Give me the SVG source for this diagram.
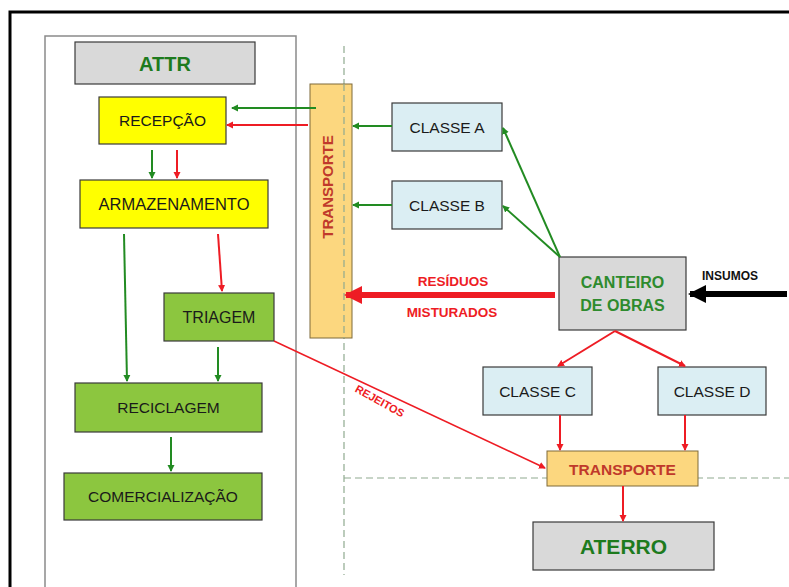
<svg xmlns="http://www.w3.org/2000/svg" width="789" height="587" viewBox="0 0 789 587">
<style>
text{font-family:"Liberation Sans",Arial,sans-serif;text-anchor:middle;dominant-baseline:central}
.n{stroke:#3a3a3a;stroke-width:1.2}
.gray{fill:#d9d9d9}
.yel{fill:#ffff00}
.grn{fill:#8cc63f}
.blu{fill:#dbeef3}
.org{fill:#fcd77f;stroke:#7f6a3a;stroke-width:1}
.t{font-size:15.5px;fill:#1a1a1a}
.g{stroke:#228b22;stroke-width:2;fill:none}
.r{stroke:#ee1c24;stroke-width:2;fill:none}
.dash{stroke:#8faa8f;stroke-width:1.2;stroke-dasharray:7 4;fill:none}
</style>
<defs>
<marker id="ag" markerWidth="8" markerHeight="8" refX="6" refY="4" orient="auto" markerUnits="userSpaceOnUse"><path d="M0,0.5 L7,4 L0,7.5 Z" fill="#228b22"/></marker>
<marker id="ar" markerWidth="8" markerHeight="8" refX="6" refY="4" orient="auto" markerUnits="userSpaceOnUse"><path d="M0,0.5 L7,4 L0,7.5 Z" fill="#ee1c24"/></marker>
<marker id="arb" markerWidth="20" markerHeight="20" refX="16" refY="10" orient="auto" markerUnits="userSpaceOnUse"><path d="M0,1 L18,10 L0,19 Z" fill="#ee1c24"/></marker>
<marker id="ak" markerWidth="20" markerHeight="20" refX="16" refY="10" orient="auto" markerUnits="userSpaceOnUse"><path d="M0,1 L18,10 L0,19 Z" fill="#000"/></marker>
</defs>
<rect width="789" height="587" fill="#fff"/>
<rect x="10" y="12" width="800" height="600" fill="none" stroke="#000" stroke-width="3"/>

<g id="guides">
<line class="dash" x1="344" y1="46" x2="344" y2="575"/>
<line class="dash" x1="344" y1="478" x2="789" y2="478"/>
</g>

<g id="attr-frame"><rect x="45" y="36" width="251" height="560" fill="#fff" stroke="#8a8a8a" stroke-width="1.5"/></g>

<g id="attr"><rect class="n gray" x="75" y="42" width="180" height="42" stroke="#7a7a7a"/><text x="165" y="64" font-size="20" font-weight="bold" fill="#1e7b1e">ATTR</text></g>
<g id="recepcao"><rect class="n yel" x="99" y="97" width="127" height="47"/><text class="t" x="162.5" y="120.5">RECEPÇÃO</text></g>
<g id="armazenamento"><rect class="n yel" x="80" y="180" width="188" height="48"/><text class="t" x="174" y="204" style="font-size:16.5px">ARMAZENAMENTO</text></g>
<g id="triagem"><rect class="n grn" x="164" y="293" width="110" height="48"/><text class="t" x="219" y="317" style="font-size:16px">TRIAGEM</text></g>
<g id="reciclagem"><rect class="n grn" x="75" y="383" width="187" height="49"/><text class="t" x="168.5" y="407.5">RECICLAGEM</text></g>
<g id="comercializacao"><rect class="n grn" x="64" y="473" width="198" height="47"/><text class="t" x="163" y="496.5">COMERCIALIZAÇÃO</text></g>

<g id="transporte-v"><rect class="org" x="310" y="84" width="42" height="254"/><text x="327" y="187" font-size="15" font-weight="bold" fill="#c0392b" transform="rotate(-90 327 187)">TRANSPORTE</text></g>
<line class="dash" x1="344" y1="84" x2="344" y2="338"/>

<g id="classe-a"><rect class="n blu" x="392" y="103" width="110" height="48"/><text class="t" x="447" y="127">CLASSE A</text></g>
<g id="classe-b"><rect class="n blu" x="392" y="181" width="110" height="48"/><text class="t" x="447" y="205">CLASSE B</text></g>
<g id="canteiro"><rect class="n gray" x="559" y="257" width="127" height="73"/><text x="622.5" y="282" font-size="16" font-weight="bold" fill="#2e8b2e">CANTEIRO</text><text x="622.5" y="305" font-size="16" font-weight="bold" fill="#2e8b2e">DE OBRAS</text></g>
<g id="classe-c"><rect class="n blu" x="483" y="367" width="109" height="48"/><text class="t" x="537.5" y="391">CLASSE C</text></g>
<g id="classe-d"><rect class="n blu" x="658" y="367" width="108" height="48"/><text class="t" x="712" y="391">CLASSE D</text></g>
<g id="transporte-h"><rect class="org" x="547" y="451" width="151" height="35"/><text x="622.5" y="469" font-size="15.5" font-weight="bold" fill="#c0392b">TRANSPORTE</text></g>
<g id="aterro"><rect class="n gray" x="533" y="522" width="181" height="48"/><text x="623.5" y="546.5" font-size="21" font-weight="bold" fill="#1e7b1e">ATERRO</text></g>

<g id="connectors">
<line class="g" x1="316" y1="108" x2="232" y2="108" marker-end="url(#ag)"/>
<line class="r" x1="308" y1="125" x2="227" y2="125" marker-end="url(#ar)"/>
<line class="g" x1="152" y1="150" x2="152" y2="178" marker-end="url(#ag)"/>
<line class="r" x1="177" y1="150" x2="177" y2="178" marker-end="url(#ar)"/>
<line class="g" x1="124" y1="234" x2="127" y2="381" marker-end="url(#ag)"/>
<line class="r" x1="218" y1="234" x2="222" y2="291" marker-end="url(#ar)"/>
<line class="g" x1="218" y1="347" x2="218" y2="381" marker-end="url(#ag)"/>
<line class="g" x1="171" y1="437" x2="171" y2="471" marker-end="url(#ag)"/>
<line class="g" x1="392" y1="126" x2="353" y2="126" marker-end="url(#ag)"/>
<line class="g" x1="392" y1="205" x2="353" y2="205" marker-end="url(#ag)"/>
<line class="g" x1="560" y1="257" x2="503" y2="128" marker-end="url(#ag)"/>
<line class="g" x1="560" y1="257" x2="503" y2="206" marker-end="url(#ag)"/>
<line x1="555" y1="295" x2="346" y2="295" stroke="#ee1c24" stroke-width="6" marker-end="url(#arb)"/>
<line x1="787" y1="294" x2="690" y2="294" stroke="#000" stroke-width="6" marker-end="url(#ak)"/>
<line class="r" x1="615" y1="331" x2="558" y2="366" marker-end="url(#ar)"/>
<line class="r" x1="615" y1="331" x2="685" y2="366" marker-end="url(#ar)"/>
<line class="r" x1="560" y1="415" x2="560" y2="450" marker-end="url(#ar)"/>
<line class="r" x1="685" y1="415" x2="685" y2="450" marker-end="url(#ar)"/>
<line class="r" x1="623" y1="486" x2="623" y2="521" marker-end="url(#ar)"/>
<line x1="274" y1="341" x2="545" y2="468" stroke="#ee1c24" stroke-width="1.5" marker-end="url(#ar)"/>
<text x="453" y="281" font-size="13.5" font-weight="bold" fill="#ee1c24">RESÍDUOS</text>
<text x="452" y="312" font-size="13.5" font-weight="bold" fill="#ee1c24">MISTURADOS</text>
<text x="730" y="276" font-size="12" font-weight="bold" fill="#111">INSUMOS</text>
<text x="380" y="401" font-size="11" font-weight="bold" fill="#ee1c24" transform="rotate(29 380 401)">REJEITOS</text>
</g>
</svg>
